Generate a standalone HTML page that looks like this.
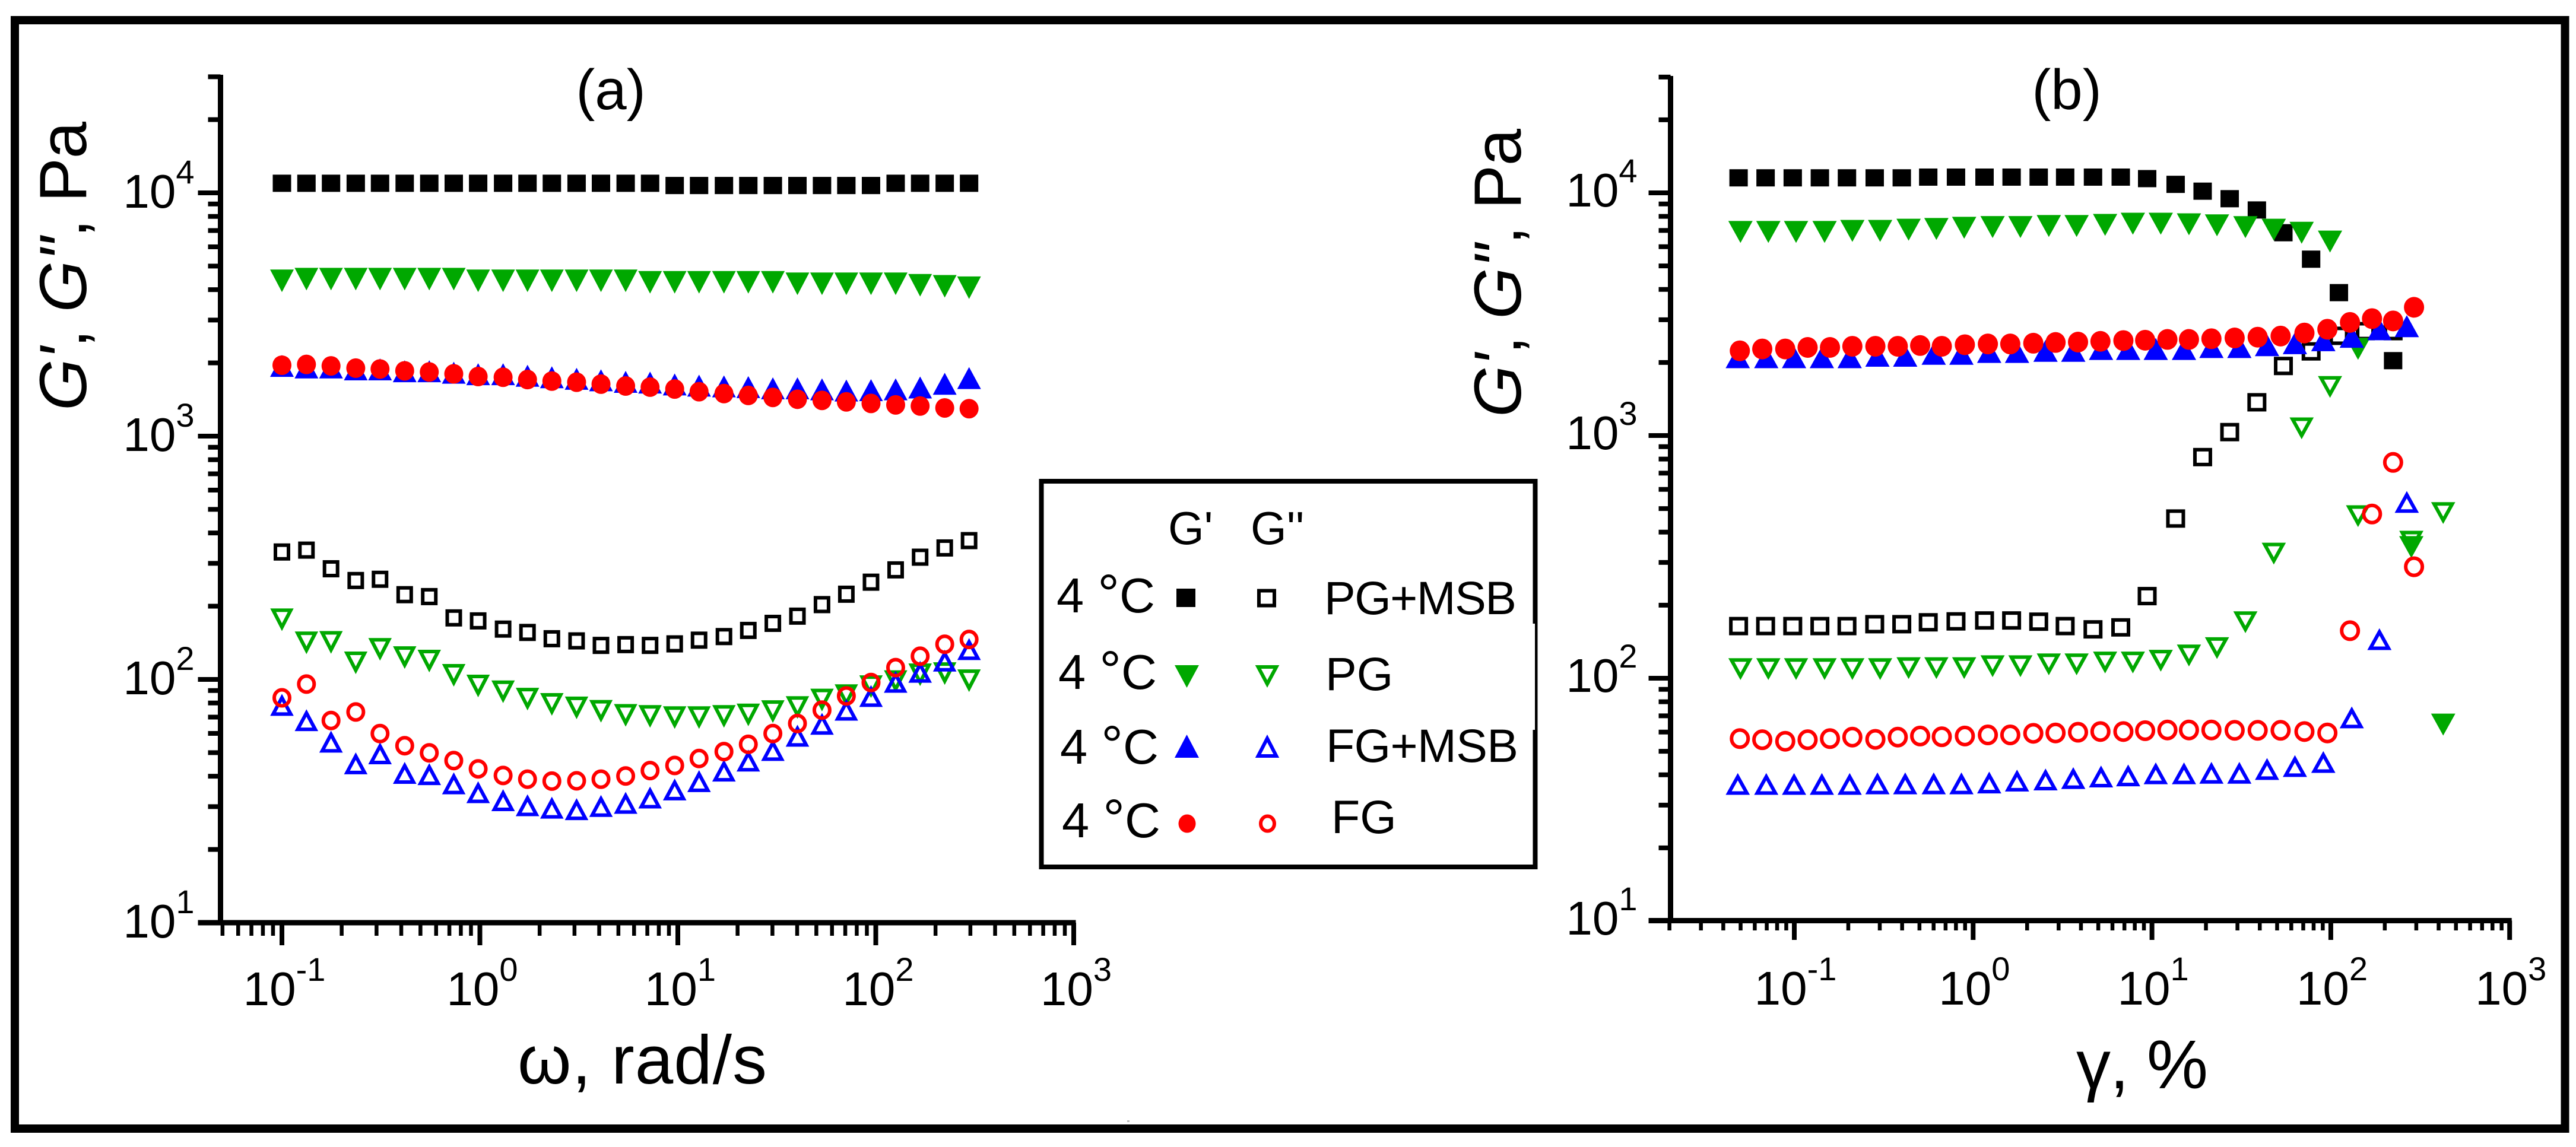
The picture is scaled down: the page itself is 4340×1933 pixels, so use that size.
<!DOCTYPE html>
<html lang="en">
<head>
<meta charset="utf-8">
<title>G' and G'' versus frequency and strain</title>
<style>
html,body{margin:0;padding:0;background:#fff;width:4340px;height:1933px;overflow:hidden}
svg{display:block}
text{font-family:"Liberation Sans",Arial,sans-serif;fill:#000}
</style>
</head>
<body>
<svg id="fig" xmlns="http://www.w3.org/2000/svg" width="4340" height="1933" viewBox="0 0 4340 1933">
  <rect x="0" y="0" width="4340" height="1933" fill="#fff"/>
  <rect x="25" y="34" width="4296.5" height="1868" fill="none" stroke="#000" stroke-width="14"/>
  <rect x="1899" y="1888" width="4" height="3" fill="#bbb"/>

  <text x="1029" y="184" font-size="96" text-anchor="middle">(a)</text>
  <text x="3482" y="184" font-size="96" text-anchor="middle">(b)</text>

  <text transform="translate(145 692) rotate(-90)" font-size="112" textLength="487"><tspan font-style="italic">G'</tspan>, <tspan font-style="italic">G''</tspan>, Pa</text>
  <text transform="translate(2562 703) rotate(-90)" font-size="112" textLength="486"><tspan font-style="italic">G'</tspan>, <tspan font-style="italic">G''</tspan>, Pa</text>
  <text x="872" y="1826" font-size="116" textLength="420">ω, rad/s</text>
  <text x="3498" y="1834" font-size="116" textLength="222">γ, %</text>

  <g id="panelA"></g>
  <g id="panelB"></g>

  <g id="legend">
    <rect x="1754.5" y="811" width="832" height="650" fill="#fff" stroke="#000" stroke-width="8"/>
    <rect x="2582" y="1051" width="4" height="179" fill="#fff"/>
    <text x="1968" y="917" font-size="78">G'</text>
    <text x="2107" y="917" font-size="78">G''</text>
    <text x="1780" y="1032" font-size="83">4 <tspan font-size="92">°</tspan>C</text>
    <text x="1783" y="1161" font-size="83">4 <tspan font-size="92">°</tspan>C</text>
    <text x="1786" y="1287" font-size="83">4 <tspan font-size="92">°</tspan>C</text>
    <text x="1789" y="1411" font-size="83">4 <tspan font-size="92">°</tspan>C</text>
    <text x="2231" y="1035" font-size="79" textLength="324">PG+MSB</text>
    <text x="2233" y="1163" font-size="79">PG</text>
    <text x="2234" y="1284" font-size="79" textLength="324">FG+MSB</text>
    <text x="2243" y="1404" font-size="79">FG</text>
  </g>
</svg>
<script>
// ---------- Tick labels ----------
const xTickExponents = ['-1', '0', '1', '2', '3'];
const yTickExponents = ['4', '3', '2', '1'];
const minorMultipliers = [2, 3, 4, 5, 6, 7, 8, 9];

// ---------- Panel (a): frequency sweep, omega in rad/s ----------
const omega = [0.1,0.133,0.177,0.236,0.313,0.417,0.555,0.738,0.98,1.31,1.74,2.31,3.08,4.09,5.45,7.24,9.64,12.8,17.1,22.7,30.2,40.2,53.5,71,94.6,126,167.5,223,296];
const aPgMsbGp = [10950,10950,10950,10950,10950,10950,10950,10950,10950,10950,10950,10950,10950,10950,10950,10950,10720,10720,10720,10720,10720,10720,10720,10720,10720,10950,10950,10950,10950];
const aPgMsbGpp = [334,340,285,255,258,223,219,179,174,161,156,147,144,138,139,138,140,145,150,159,170,182,203,224,251,282,318,347,372];
const aPgGp = [4350,4420,4420,4420,4420,4420,4420,4420,4350,4350,4350,4350,4350,4350,4350,4290,4290,4290,4290,4290,4290,4230,4230,4230,4230,4230,4170,4130,4075];
const aPgGpp = [176,141.5,142,117,133,123,119,104,94,89,83,79,76.4,74,71.2,70.5,69.7,69.7,70.5,71.5,73.8,76.7,82.3,85.8,93.4,98,104.5,105.7,98.8];
const aFgMsbGp = [1944,1916,1916,1881,1881,1848,1848,1822,1797,1797,1771,1746,1720,1696,1672,1660,1631,1613,1602,1591,1573,1573,1557,1540,1545,1557,1585,1642,1733];
const aFgMsbGpp = [78.6,68,55.5,45.2,49.7,41.3,40.8,37.4,34.4,31.9,30.4,29.7,29.3,30.2,31.1,32.7,35.3,38.2,42.2,46.4,51.3,58.7,65.7,75.1,85.5,97.8,107.5,119.5,133.3];
const aFgGp = [1957,1971,1944,1903,1888,1855,1835,1803,1758,1746,1708,1684,1666,1636,1607,1590,1562,1523,1496,1470,1443,1418,1403,1383,1363,1344,1330,1306,1297];
const aFgGpp = [84,95.7,67.8,73.5,59.9,53.4,49.9,46.4,42.9,40.3,38.9,38.2,38.3,38.9,40.1,42.2,44.3,47.3,50.5,54.1,59.9,65.9,74.8,85.5,97.1,111.8,124.6,139.5,146];

// ---------- Panel (b): strain sweep, gamma in % ----------
const bPgMsbStrain = [0.0488,0.0691,0.098,0.139,0.197,0.2816,0.399,0.561,0.802,1.158,1.641,2.326,3.27,4.68,6.69,9.4,13.56,19.2,27.2,38.6,54.3,77.6,111,156,223];
const bPgStrain = [0.05,0.0716,0.1023,0.1477,0.2112,0.302,0.4357,0.623,0.891,1.285,1.838,2.65,3.79,5.47,7.82,11.2,16.1,23.1,33.3,48,68.7,99,142,282,425];
const bFgMsbStrain = [0.0483,0.0697,0.0997,0.1426,0.204,0.2917,0.417,0.602,0.86,1.23,1.76,2.54,3.63,5.19,7.36,10.5,15.1,21.5,30.8,44,63,90.8,131,187,266];
const bFgStrain = [0.0496,0.0662,0.089,0.1187,0.1583,0.2112,0.284,0.379,0.5055,0.668,0.899,1.209,1.613,2.17,2.89,3.86,5.15,6.92,9.16,12.2,16.1,21.5,29,39,52.4,71.2,95.7,128,170,223,292];
const bPgMsbGp = [11530,11530,11530,11530,11530,11530,11530,11610,11610,11610,11610,11610,11610,11610,11610,11445,10840,10160,9460,8500,6850,5330,3880,2693,2035];
const bPgMsbGpp = [164,164,164,164,164,167,167,170,171.5,173,173,171,164,159,162,218,455,815,1033,1371,1935,2222,2576,2693,2693];
const bPgGp = [6900,6900,6900,6900,6970,6970,7050,7100,7180,7230,7230,7300,7300,7380,7460,7460,7420,7350,7225,7050,6850,6300,2277,347,64.4];
const bPgGpp = [109,109,109,109,109,109,110,110,110,112,112,114,114,116,116,118,124,133,170,326,1070,1585,465,365,479];
const bFgMsbGp = [2102,2102,2102,2102,2102,2132,2132,2171,2171,2210,2210,2234,2234,2274,2274,2274,2274,2316,2316,2357,2401,2471,2552,2742,2822];
const bFgMsbGpp = [36.7,36.7,36.7,36.7,36.7,36.9,36.9,36.9,36.9,37.2,37.9,38.3,38.8,39.4,39.8,40.6,40.6,40.8,40.8,42.3,43.5,45.2,69,145,533];
const bFgGp = [2234,2274,2274,2307,2307,2332,2332,2332,2349,2332,2367,2384,2384,2401,2418,2427,2444,2462,2471,2489,2489,2506,2524,2543,2570,2645,2742,2925,3032,2967,3376];
const bFgGpp = [56.4,55.8,55,55.8,56.4,57.2,56,57.2,57.8,57.4,57.8,58.4,58.4,59.3,59.5,59.9,60.3,60.3,60.8,61.2,61.2,61.2,61,61,61,60.3,59.5,157,475,775,288];

// ---------- Rendering ----------
const NS = 'http://www.w3.org/2000/svg';
const BLACK = '#000000', GREEN = '#00a800', BLUE = '#0000ff', RED = '#ff0000';
const OPEN_STROKE = 6;

function mk(tag, attrs, parent) {
  const node = document.createElementNS(NS, tag);
  for (const k in attrs) node.setAttribute(k, attrs[k]);
  parent.appendChild(node);
  return node;
}

function drawMarker(parent, shape, filled, color, cx, cy, w, h) {
  const s = OPEN_STROKE;
  const paint = filled ? { fill: color } : { fill: 'none', stroke: color, 'stroke-width': s };
  if (shape === 'square') {
    const i = filled ? 0 : s / 2;
    if (!filled) paint.fill = '#fff';
    return mk('rect', Object.assign({ x: cx - w / 2 + i, y: cy - h / 2 + i, width: w - 2 * i, height: h - 2 * i }, paint), parent);
  }
  if (shape === 'circle') {
    const i = filled ? 0 : s / 2;
    return mk('ellipse', Object.assign({ cx: cx, cy: cy, rx: w / 2 - i, ry: h / 2 - i }, paint), parent);
  }
  const dir = shape === 'down' ? 1 : -1;
  const baseInset = filled ? 0 : 5.2;
  const flatInset = filled ? 0 : s / 2;
  const tipInset = filled ? 0 : 6.4;
  const yBase = cy - dir * (h / 2 - flatInset);
  const yTip = cy + dir * (h / 2 - tipInset);
  const pts = (cx - w / 2 + baseInset) + ',' + yBase + ' ' + (cx + w / 2 - baseInset) + ',' + yBase + ' ' + cx + ',' + yTip;
  return mk('polygon', Object.assign({ points: pts }, paint), parent);
}

function drawPanel(cfg) {
  const g = cfg.group;
  const X = v => cfg.x0 + (Math.log10(v) + 1) * cfg.xDecade;
  const Y = v => cfg.y0 + (4 - Math.log10(v)) * cfg.yDecade;

  // axis lines
  let el = mk('rect', { x: cfg.axisX - 4.5, y: cfg.axisTop, width: 9, height: cfg.axisY + 4.5 - cfg.axisTop, fill: '#000' }, g);
  
  
  el = mk('rect', { x: cfg.axisX - cfg.yMajorLen, y: cfg.axisY - 4.5, width: X(1000) + 3.5 - cfg.axisX + cfg.yMajorLen, height: 9, fill: '#000' }, g);
  
  

  // x ticks
  xTickExponents.forEach(function (exp) {
    const v = Math.pow(10, Number(exp));
    const tick = mk('rect', { x: X(v) - 4, y: cfg.axisY, width: 8, height: cfg.xMajorEnd - cfg.axisY, fill: '#000' }, g);
    
    
    const label = mk('text', { x: X(v) + cfg.xLabelShift, y: cfg.xLabelBase, 'font-size': 80, 'text-anchor': 'middle' }, g);
    
    
    mk('tspan', {}, label).textContent = '10';
    const sup = mk('tspan', { 'font-size': 56, dy: -41 }, label);
    sup.textContent = exp;
    xTickExponents.slice(0, 4).forEach(function (e) {
      minorMultipliers.forEach(function (m) {
        if (e !== exp) return;
        const mv = m * Math.pow(10, Number(e));
        const minor = mk('rect', { x: X(mv) - 3, y: cfg.axisY, width: 6.5, height: cfg.xMinorEnd - cfg.axisY, fill: '#000' }, g);
        
        
      });
    });
  });
  // minor x ticks below the first labelled decade
  minorMultipliers.forEach(function (m) {
    const mv = m * 0.01;
    if (mv < cfg.xMin) return;
    const minor = mk('rect', { x: X(mv) - 3, y: cfg.axisY, width: 6.5, height: cfg.xMinorEnd - cfg.axisY, fill: '#000' }, g);
    
    
  });

  // y ticks
  yTickExponents.forEach(function (exp) {
    const v = Math.pow(10, Number(exp));
    const tick = mk('rect', { x: cfg.axisX - cfg.yMajorLen, y: Y(v) - 4, width: cfg.yMajorLen, height: 8, fill: '#000' }, g);
    
    
    const label = mk('text', { x: cfg.axisX - cfg.yLabelGap, y: Y(v) + cfg.yLabelDrop, 'font-size': 80, 'text-anchor': 'end' }, g);
    
    
    mk('tspan', {}, label).textContent = '10';
    const sup = mk('tspan', { 'font-size': 56, dy: -41 }, label);
    sup.textContent = exp;
    minorMultipliers.forEach(function (m) {
      const mv = m * v;
      if (mv > cfg.yMax) return;
      const minor = mk('rect', { x: cfg.axisX - cfg.yMinorLen, y: Y(mv) - 4, width: cfg.yMinorLen, height: 8, fill: '#000' }, g);
      
      
    });
  });

  // data series
  cfg.series.forEach(function (s) {
    const sg = mk('g', {}, g);
    
    
    const size = cfg.size[s.shape + (s.filled ? '' : 'Open')] || cfg.size[s.shape];
    s.y.forEach(function (val, i) {
      const pt = drawMarker(sg, s.shape, s.filled, s.color, X(s.x[i]), Y(val), size[0], size[1]);
      
      
    });
  });
}

drawPanel({
  group: document.getElementById('panelA'),
  x0: 475, xDecade: 333.5, y0: 325, yDecade: 410,
  axisX: 371.5, axisY: 1555, axisTop: 126,
  xMin: 0.05, yMax: 30000,
  yMajorLen: 38, yMinorLen: 21, xMajorEnd: 1593, xMinorEnd: 1577,
  xLabelBase: 1694, xLabelShift: 4, yLabelGap: 44, yLabelDrop: 25,
  size: { square: [31, 29], squareOpen: [28, 29], down: [40, 38], up: [40, 37], circle: [32, 33] },
  series: [
    { name: 'a-pg-msb-g-prime', x: omega, y: aPgMsbGp, shape: 'square', filled: true, color: BLACK },
    { name: 'a-pg-msb-g-double-prime', x: omega, y: aPgMsbGpp, shape: 'square', filled: false, color: BLACK },
    { name: 'a-pg-g-prime', x: omega, y: aPgGp, shape: 'down', filled: true, color: GREEN },
    { name: 'a-pg-g-double-prime', x: omega, y: aPgGpp, shape: 'down', filled: false, color: GREEN },
    { name: 'a-fg-msb-g-prime', x: omega, y: aFgMsbGp, shape: 'up', filled: true, color: BLUE },
    { name: 'a-fg-msb-g-double-prime', x: omega, y: aFgMsbGpp, shape: 'up', filled: false, color: BLUE },
    { name: 'a-fg-g-prime', x: omega, y: aFgGp, shape: 'circle', filled: true, color: RED },
    { name: 'a-fg-g-double-prime', x: omega, y: aFgGpp, shape: 'circle', filled: false, color: RED }
  ]
});

drawPanel({
  group: document.getElementById('panelB'),
  x0: 3023, xDecade: 301.3, y0: 325, yDecade: 409,
  axisX: 2814.5, axisY: 1551.5, axisTop: 128,
  xMin: 0.02, yMax: 30000,
  yMajorLen: 37, yMinorLen: 20, xMajorEnd: 1584, xMinorEnd: 1568,
  xLabelBase: 1693, xLabelShift: 2, yLabelGap: 56, yLabelDrop: 23,
  size: { square: [31, 29], squareOpen: [32, 31], down: [41, 37], up: [41, 37], circle: [34, 35] },
  series: [
    { name: 'b-pg-msb-g-prime', x: bPgMsbStrain, y: bPgMsbGp, shape: 'square', filled: true, color: BLACK },
    { name: 'b-pg-msb-g-double-prime', x: bPgMsbStrain, y: bPgMsbGpp, shape: 'square', filled: false, color: BLACK },
    { name: 'b-pg-g-prime', x: bPgStrain, y: bPgGp, shape: 'down', filled: true, color: GREEN },
    { name: 'b-pg-g-double-prime', x: bPgStrain, y: bPgGpp, shape: 'down', filled: false, color: GREEN },
    { name: 'b-fg-msb-g-prime', x: bFgMsbStrain, y: bFgMsbGp, shape: 'up', filled: true, color: BLUE },
    { name: 'b-fg-msb-g-double-prime', x: bFgMsbStrain, y: bFgMsbGpp, shape: 'up', filled: false, color: BLUE },
    { name: 'b-fg-g-prime', x: bFgStrain, y: bFgGp, shape: 'circle', filled: true, color: RED },
    { name: 'b-fg-g-double-prime', x: bFgStrain, y: bFgGpp, shape: 'circle', filled: false, color: RED }
  ]
});

// ---------- Legend swatches ----------
const legendGroup = document.getElementById('legend');
let swatch = drawMarker(legendGroup, 'square', true, BLACK, 1998, 1007.5, 32, 31);


swatch = drawMarker(legendGroup, 'square', false, BLACK, 2134, 1008, 32, 31);


swatch = drawMarker(legendGroup, 'down', true, GREEN, 1999.5, 1140, 41, 38);


swatch = drawMarker(legendGroup, 'down', false, GREEN, 2135, 1140, 41, 38);


swatch = drawMarker(legendGroup, 'up', true, BLUE, 1999.5, 1257.5, 41, 39);


swatch = drawMarker(legendGroup, 'up', false, BLUE, 2135, 1257.5, 41, 39);


swatch = drawMarker(legendGroup, 'circle', true, RED, 2000, 1388, 29, 31);


swatch = drawMarker(legendGroup, 'circle', false, RED, 2135.5, 1388, 29, 31);


</script>
</body>
</html>
